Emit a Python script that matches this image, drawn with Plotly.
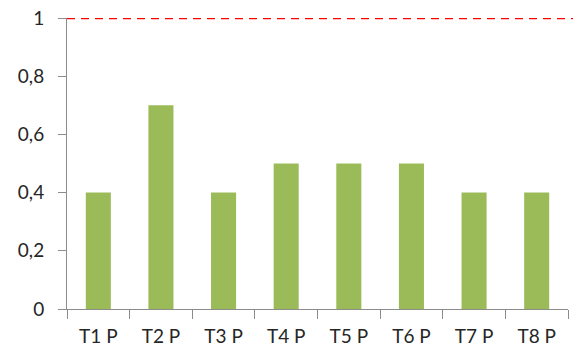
import plotly.graph_objects as go

categories = ["T1 P", "T2 P", "T3 P", "T4 P", "T5 P", "T6 P", "T7 P", "T8 P"]
values = [0.4, 0.7, 0.4, 0.5, 0.5, 0.5, 0.4, 0.4]
y_ticks = [0, 0.2, 0.4, 0.6, 0.8, 1]
y_tick_labels = ["0", "0,2", "0,4", "0,6", "0,8", "1"]
reference_level = 1

fig = go.Figure(
    go.Bar(
        x=categories,
        y=values,
        marker=dict(color="#9BBB59", line=dict(width=0)),
        width=0.4,
    )
)

# dashed reference line across the top of the plot
fig.add_shape(
    type="line",
    xref="paper", yref="y",
    x0=0, x1=1.01, y0=reference_level, y1=reference_level,
    line=dict(color="#FF0000", width=2.5, dash="8px,6px"),
    layer="above",
)

axis_color = "#8C8C8C"
fig.update_layout(
    width=574, height=355,
    margin=dict(l=67, r=6, t=15, b=46),
    paper_bgcolor="white",
    plot_bgcolor="white",
    showlegend=False,
    font=dict(family="Lato", size=19, color="#262626"),
    xaxis=dict(
        type="category",
        showline=True, linecolor=axis_color, linewidth=1,
        ticks="outside", tickson="boundaries", ticklen=9,
        tickcolor=axis_color, tickwidth=1,
        showgrid=False, zeroline=False,
        ticklabelstandoff=10,
    ),
    yaxis=dict(
        range=[0, 1],
        tickvals=y_ticks, ticktext=y_tick_labels,
        showline=True, linecolor=axis_color, linewidth=1,
        ticks="outside", ticklen=8, tickcolor=axis_color, tickwidth=1,
        showgrid=False, zeroline=False,
        ticklabelstandoff=10,
    ),
)

fig.write_html("out.html")
